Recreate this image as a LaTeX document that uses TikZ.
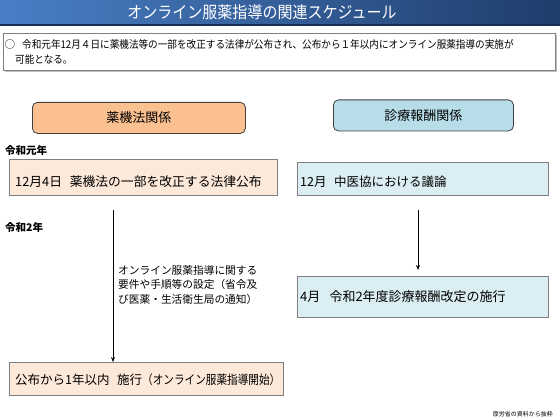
\documentclass[tikz,border=0pt]{standalone}
\usepackage{fontspec}
\setmainfont{Noto Sans CJK JP}
\usetikzlibrary{arrows.meta}
\definecolor{titleL}{HTML}{4A7FC6}
\definecolor{titleR}{HTML}{1E3D6B}
\definecolor{titleLine}{HTML}{1A2F55}
\definecolor{hdrOrange}{HTML}{FAC090}
\definecolor{hdrBlue}{HTML}{B7DDE8}
\definecolor{boxOrange}{HTML}{FDE9D9}
\definecolor{boxBlue}{HTML}{DAEEF3}
\definecolor{boxLine}{HTML}{7F7F7F}
\definecolor{hdrLine}{HTML}{404040}
\tikzset{
  fs/.style={font=\fontsize{#1}{#1}\selectfont},
  hdrbox/.style={draw=hdrLine, line width=0.8pt, rounded corners=5pt, anchor=north west, inner sep=0pt},
  evbox/.style={draw=boxLine, line width=0.9pt, anchor=north west, inner sep=0pt},
  evtext/.style={anchor=west, inner sep=0pt, fs=12.5},
  yearlbl/.style={anchor=west, inner sep=0pt, font=\fontsize{10.5}{11}\selectfont\bfseries},
  arr/.style={-{Stealth[length=5pt,width=4pt]}, line width=0.7pt, black}
}
\begin{document}
\begin{tikzpicture}[x=1pt,y=-1pt]
\useasboundingbox (0,0) rectangle (560,420);
\fill[white] (0,0) rectangle (560,420);
% title bar
\shade[left color=titleL, right color=titleR] (0,0) rectangle (560,25);
\draw[titleLine, line width=1.2pt] (0,25) -- (560,25);
\node[text=white, fs=16.5, inner sep=0pt] (title) at (262,12.5) {\scalebox{0.91}[1]{オンライン服薬指導の関連スケジュール}};
% info box
\fill[black!25] (5,35) rectangle (557,72);
\node[draw=boxLine, fill=white, line width=0.8pt, anchor=north west, minimum width=552pt, minimum height=37pt, inner sep=0pt] (info) at (3,33) {};
\node[fs=10.6, inner sep=0pt] (circ) at (10,44) {○};
\node[fs=10.6, anchor=west, inner sep=0pt] (info1) at (22,44) {\scalebox{0.907}[1]{令和元年12月４日に薬機法等の一部を改正する法律が公布され、公布から１年以内にオンライン服薬指導の実施が}};
\node[fs=10.6, anchor=west, inner sep=0pt] (info2) at (15,59) {\scalebox{0.907}[1]{可能となる。}};
% headers
\node[hdrbox, fill=hdrOrange, minimum width=213pt, minimum height=31pt] (hdrL) at (32,102) {};
\node[fs=13, inner sep=0pt] (hdrLt) at (hdrL.center) {薬機法関係};
\node[hdrbox, fill=hdrBlue, minimum width=180pt, minimum height=31pt] (hdrR) at (333,99.5) {};
\node[fs=13, inner sep=0pt] (hdrRt) at (hdrR.center) {診療報酬関係};
% year labels
\node[yearlbl] (y1) at (5,150) {令和元年};
\node[yearlbl] (y2) at (5,227) {令和2年};
% event boxes
\node[evbox, fill=boxOrange, minimum width=268pt, minimum height=36pt] (boxA) at (9,159) {};
\node[evtext, fs=12.8] (boxAt) at (15,182) {12月4日\hspace{0.6em}薬機法の一部を改正する法律公布};
\node[evbox, fill=boxBlue, minimum width=251pt, minimum height=33pt] (boxB) at (297,162) {};
\node[evtext] (boxBt) at (300,182) {12月\hspace{0.6em}中医協における議論};
\node[evbox, fill=boxBlue, minimum width=251pt, minimum height=41pt] (boxD) at (297,276) {};
\node[evtext, fs=13] (boxDt) at (300,297) {4月\hspace{0.7em}令和2年度診療報酬改定の施行};
\node[evbox, fill=boxOrange, minimum width=274pt, minimum height=33pt] (boxC) at (9,362) {};
\node[evtext] (boxCt) at (15,380) {公布から1年以内\hspace{0.6em}施行\scalebox{0.85}[1]{（オンライン服薬指導開始）}};
% arrows
\coordinate (aL) at (113,0);
\coordinate (aR) at (418,0);
\draw[arr, shorten <=14pt] (aL |- boxA.south) -- (aL |- boxC.north);
\draw[arr, shorten <=14pt, shorten >=6pt] (aR |- boxB.south) -- (aR |- boxD.north);
% annotation
\node[anchor=north west, inner sep=0pt, align=left, font=\fontsize{10.7}{14.5}\selectfont] (note) at (118,265) {オンライン服薬指導に関する\\要件や手順等の設定（省令及\\び医薬・生活衛生局の通知）};
% footer
\node[anchor=east, inner sep=0pt, fs=6] (foot) at (553,414) {厚労省の資料から抜粋};
\end{tikzpicture}
\end{document}
